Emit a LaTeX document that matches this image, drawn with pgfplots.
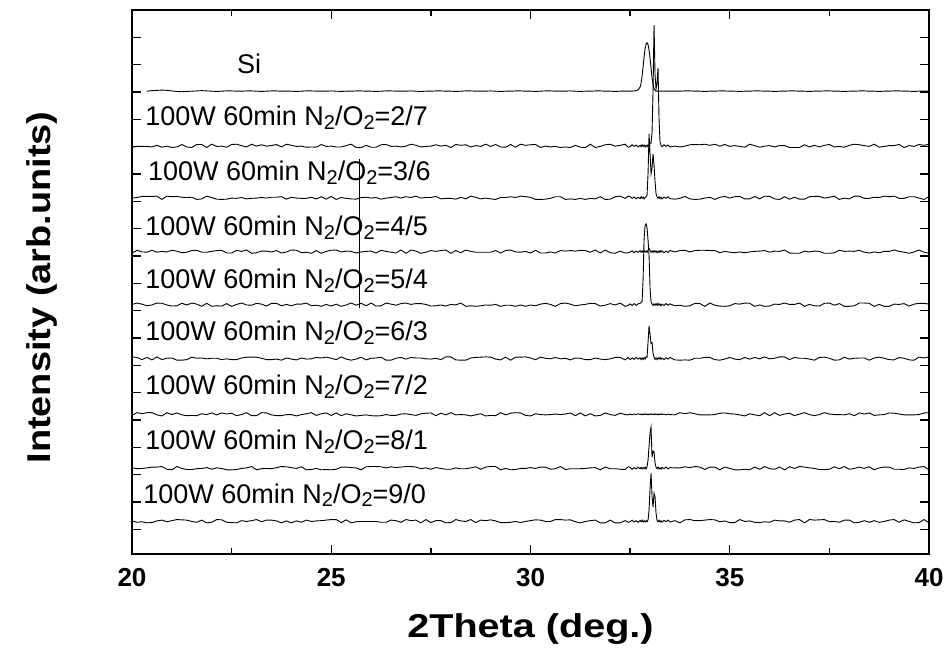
\documentclass[border=0pt]{standalone}
\usepackage{pgfplots}
\pgfplotsset{compat=1.18}
\usepackage{pgfplotstable}
\usepackage{graphicx}
\usepackage{fontspec}
\setmainfont{Liberation Sans}

\pgfplotstableread{
x s a b c d e f g h
20.0 0 -5 -1 -5 1 6 -4 2 1
20.125 0 -2 1 5 6 4 6 -2 -4
20.25 0 -2 5 -1 2 -4 2 -1 -2
20.375 0 -2 5 -2 -4 4 6 1 -6
20.5 2 -4 5 5 -1 -5 6 4 -5
20.625 3 2 6 -2 6 6 -2 4 1
20.75 4 -5 -6 1 5 -4 -6 6 4
20.875 3 -1 6 -1 -1 1 6 -4 -2
21.0 1 -6 4 5 -5 2 -1 -6 2
21.125 -1 -4 5 2 -4 -6 5 6 6
21.25 -2 5 2 -4 5 -6 -2 -1 5
21.375 -1 -4 1 -2 -1 -4 -5 -5 4
21.5 0 -6 2 4 6 5 -4 -5 -1
21.625 1 5 -6 5 2 1 -5 -2 -4
21.75 2 5 -4 -2 -6 2 2 -1 4
21.875 1 -6 6 -2 5 -1 -1 2 -6
22.0 0 6 1 1 -6 1 5 -4 -4
22.125 -1 -2 -5 4 -4 1 -2 1 6
22.25 0 -1 -6 5 -5 -4 5 -1 5
22.375 1 -5 -5 -5 4 -1 1 -6 -4
22.5 1 5 -1 -5 -6 -4 4 -6 -5
22.625 0 6 -2 5 1 -4 -5 -5 -6
22.75 0 1 1 1 6 2 -1 -1 2
22.875 1 -4 -4 6 -1 5 6 1 -1
23.0 1 6 -2 -6 -2 5 -5 6 2
23.125 0 -1 -1 -4 5 5 -5 -6 6
23.25 -1 4 1 2 2 1 6 -2 -2
23.375 0 -1 -1 2 -5 -4 5 -1 4
23.5 1 1 2 -1 5 -4 -2 -2 4
23.625 1 5 2 4 5 -2 -5 2 1
23.75 0 -4 4 -5 -4 -6 -5 6 -6
23.875 0 6 -5 -1 1 2 -1 5 1
24.0 0 2 2 6 -4 -2 -1 2 -6
24.125 -1 -2 -1 5 2 -5 -6 -1 1
24.25 0 -1 -2 -4 2 2 -1 5 -4
24.375 1 -5 -2 -2 6 -2 2 -6 4
24.5 1 -4 2 -6 -4 -1 6 -5 -1
24.625 0 -5 -4 4 -2 4 -4 -1 1
24.75 0 5 4 -6 -6 2 2 -6 2
24.875 0 -2 -5 1 1 5 5 -5 4
25.0 1 -1 5 5 -5 1 -4 -6 6
25.125 0 -4 -6 6 2 -4 5 -4 6
25.25 -1 -4 1 -1 -6 6 -5 4 -5
25.375 0 1 -2 2 -1 -2 2 4 5
25.5 0 6 -4 1 6 -6 -2 2 -6
25.625 1 -6 -5 -5 -2 -2 -6 1 -2
25.75 1 -6 1 -1 5 5 -4 -6 -1
25.875 0 2 2 1 -4 -5 -2 5 -1
26.0 0 -5 -1 2 6 1 -5 6 -1
26.125 -1 -5 1 -5 -5 2 -6 6 -1
26.25 0 4 -5 5 -4 5 -5 5 -4
26.375 1 5 -1 1 6 -6 -1 1 -4
26.5 1 -2 1 -2 2 -6 -4 5 4
26.625 0 -1 4 -5 -2 1 -4 2 2
26.75 0 -4 -1 6 4 4 1 4 -4
26.875 0 -1 4 -6 6 -2 2 6 6
27.0 1 6 1 6 1 4 -1 6 2
27.125 0 2 6 2 4 2 -4 4 4
27.25 -1 -4 -1 -6 4 2 2 -2 -6
27.375 0 -2 1 -2 1 -1 4 1 6
27.5 0 -1 1 4 -5 -2 5 -4 -5
27.625 1 4 5 1 -4 1 -5 2 2
27.75 1 -1 -4 4 -1 -4 4 -1 2
27.875 0 2 -2 6 -5 6 -2 -4 -6
28.0 0 -6 -2 -6 1 6 6 -4 -5
28.125 -1 5 -5 4 -1 -5 -2 1 6
28.25 0 2 2 -4 6 -6 -1 -2 1
28.375 1 4 -4 6 -6 -6 -2 -2 -1
28.5 1 -4 6 1 -4 2 -6 1 6
28.625 0 1 2 -2 -6 4 -2 5 -5
28.75 0 -2 -4 -2 -4 5 2 -4 4
28.875 0 6 -1 -2 -1 6 -6 4 2
29.0 1 -2 -4 -2 -2 5 -4 6 5
29.125 0 5 -6 4 1 -2 -5 6 1
29.25 -1 -4 1 -5 -6 -5 6 -6 -5
29.375 0 -5 1 4 -2 5 -2 -1 -5
29.5 0 5 4 6 -2 -6 4 -6 -4
29.625 1 -5 1 -1 -6 5 6 -5 -1
29.75 1 6 6 -2 -1 5 5 -1 -5
29.875 0 2 4 1 -6 6 -4 -1 -1
30.0 0 4 2 -5 -1 2 -6 2 2
30.125 -1 5 -6 5 -4 -4 2 -1 5
30.25 0 -6 -6 -5 2 5 -1 4 4
30.375 1 -1 -5 -5 5 1 -2 4 -1
30.5 1 -4 -2 -1 1 -1 -1 -4 -1
30.625 0 -2 4 -5 -6 4 1 -2 6
30.75 0 -6 4 4 4 -1 -1 6 6
30.875 0 -4 -6 2 6 1 1 -5 4
31.0 1 -6 -4 4 2 -5 5 -2 5
31.125 0 2 -6 2 -4 2 -5 -2 -2
31.25 -1 -5 -2 5 -1 1 5 -2 -6
31.375 0 -6 -6 4 1 -4 -6 -1 -1
31.5 0 6 -2 -2 5 -4 2 1 2
31.625 1 -6 -4 6 4 2 -6 2 4
31.75 1 -2 4 -5 -5 -2 -4 -6 -6
31.875 0 4 -6 6 -2 -4 5 4 -6
32.0 0 6 -5 -4 4 -1 -1 -2 4
32.125 -1 -1 4 -6 -1 4 -4 -2 -6
32.25 0 2 6 2 6 4 4 -4 -6
32.375 0 6 -2 -5 -6 -5 -1 -5 2
32.45 0 -5 6 -4 -3 4 -2 5 -4
32.5 0 -3 4 -2 3 -4 1 3 -2
32.55 0 4 -2 3 -3 2 -2 -4 4
32.6 1 -2 3 -4 4 -3 1 2 -3
32.65 2 3 -4 2 -2 4 -1 -3 2
32.7 5 -4 2 -3 3 -2 2 4 -4
32.75 15 2 -3 4 5 3 -1 -2 3
32.775 30 -3 4 -2 8 -4 1 3 -2
32.8 55 4 -2 3 12 2 -2 -3 4
32.825 90 -2 3 -3 90 -3 1 2 -3
32.85 125 3 -4 4 240 4 -1 -2 2
32.875 155 -4 2 -2 290 -2 2 4 -3
32.9 172 2 3 3 296 6 -1 -3 2
32.925 177 -3 10 -3 280 5 1 5 -2
32.95 170 4 90 5 235 60 -2 30 5
32.975 150 -2 234 12 180 120 1 80 40
33.0 120 10 160 5 60 90 -1 130 120
33.025 85 10 88 -2 10 55 2 150 175
33.05 50 50 110 3 2 58 -1 40 90
33.075 25 200 160 -3 -3 20 1 62 51
33.1 10 442 120 4 3 5 -2 60 102
33.125 4 260 60 -2 -2 -3 2 20 90
33.15 1 208 15 3 4 2 -1 3 30
33.175 0 230 3 -4 -3 -4 1 -2 3
33.2 0 285 -2 2 5 3 -2 4 -2
33.225 0 100 4 -3 -2 -2 1 -3 4
33.25 0 15 -3 4 3 4 -1 2 -3
33.275 0 2 2 -2 -4 -3 2 -4 2
33.3 0 -3 -4 3 2 2 -1 3 -4
33.35 0 4 3 -4 -3 -4 1 -2 3
33.4 0 -2 -2 2 4 3 -2 4 -2
33.45 0 3 4 -3 -2 -2 1 -3 4
33.5 0 -4 -3 4 3 4 -1 2 -3
33.625 0 -1 -5 -1 -4 -5 -2 1 2
33.75 0 -4 -2 4 -2 -6 6 1 -6
33.875 1 -1 5 5 -6 -5 2 5 5
34.0 1 4 -4 -1 -4 -6 6 2 6
34.125 0 5 -6 4 5 1 2 6 2
34.25 0 4 -5 5 4 1 -2 4 2
34.375 -1 6 -1 5 -6 4 -2 -5 4
34.5 0 2 2 4 6 4 -2 4 6
34.625 0 6 -6 4 -2 -4 -1 4 5
34.75 1 -1 2 -4 -5 -6 4 -6 -2
34.875 1 5 5 1 -6 -2 5 4 1
35.0 0 -2 -1 -2 -4 4 2 -1 -5
35.125 0 1 4 -4 4 -2 1 -6 -5
35.25 -1 -2 5 -1 2 -4 -2 -6 6
35.375 0 -5 -4 -4 6 4 -6 -4 -1
35.5 0 6 -4 -1 5 -2 2 -6 1
35.625 1 1 5 1 -6 4 -2 4 -4
35.75 1 -5 -4 2 -1 -1 -5 -4 -5
35.875 0 -1 6 4 -6 6 6 6 -2
36.0 0 1 5 -2 -5 -1 -5 -2 -4
36.125 -1 -4 -4 2 2 1 6 -4 4
36.25 0 1 -6 1 1 6 -4 4 1
36.375 0 1 4 6 6 6 1 -6 1
36.5 1 -6 -5 -5 1 -4 4 5 -4
36.625 1 -6 2 -6 1 4 -5 -1 4
36.75 0 -6 -5 -6 6 1 1 6 6
36.875 0 4 -5 2 -6 1 6 4 -6
37.0 -1 -4 4 -1 1 -2 -1 1 6
37.125 0 2 5 2 -4 -6 -5 -1 4
37.25 0 -4 5 1 -5 4 -1 -5 5
37.375 1 2 -1 -6 5 5 6 -5 6
37.5 1 5 2 -6 6 1 1 -4 -2
37.625 0 -4 6 -4 -2 -6 -1 5 -1
37.75 0 -2 -6 5 4 -5 -1 -2 -4
37.875 -1 -5 -1 1 -6 5 -2 6 4
38.0 0 2 -4 2 -6 -2 2 -4 4
38.125 0 6 6 1 -4 1 -5 -1 -6
38.25 1 4 6 5 6 2 5 4 -4
38.375 1 1 -2 -2 6 2 1 -1 2
38.5 0 -2 -2 -5 5 -6 5 5 -4
38.625 0 6 2 -1 -6 2 -4 -6 2
38.75 -1 -5 1 -4 1 5 -2 1 -4
38.875 0 -2 6 1 -6 1 -1 4 -1
39.0 0 1 4 1 -6 -4 5 4 4
39.125 1 1 6 6 2 -5 4 -4 6
39.25 1 5 -2 1 1 4 1 -4 -4
39.375 0 -6 -2 -2 4 1 -2 -5 5
39.5 0 1 4 -6 -5 -5 -2 1 -1
39.625 -1 -2 4 -1 2 -6 -2 -1 -6
39.75 0 5 -1 6 5 5 -1 4 -5
39.875 0 2 -6 -2 5 2 5 6 6
40.0 0 6 4 -6 2 6 6 -6 -6
}\data

\newcommand\sub[1]{\raisebox{-3.8pt}{\fontsize{20}{20}\selectfont #1}}
\newcommand\lab[1]{100W 60min N\sub{2}/O\sub{2}=#1}

\begin{document}
\begin{tikzpicture}
\path[use as bounding box] (0,0) rectangle (947pt,648pt);
\begin{axis}[
  at={(132pt,94pt)}, anchor=south west,
  scale only axis, width=797pt, height=544pt,
  xmin=20, xmax=40, ymin=0.1, ymax=20,
  xtick={20,25,30,35,40},
  minor xtick={22.5,27.5,32.5,37.5},
  ytick={1,2,...,19}, yticklabels={},
  tick align=inside,
  major tick length=9pt, minor tick length=6pt,
  axis line style={line width=1.8pt},
  tick style={line width=1.4pt, black},
  /pgf/number format/assume math mode=true,
  xticklabel style={font=\bfseries\fontsize{26}{26}\selectfont, inner sep=0pt, yshift=-14pt},
  xlabel={\bfseries\scalebox{1.2}[1]{2Theta (deg.)}},
  xlabel style={font=\fontsize{33}{33}\selectfont, at={(axis description cs:0.5,-0.1526)}, anchor=base},
  ylabel={\bfseries\scalebox{1.15}[1]{Intensity (arb.units)}},
  ylabel style={font=\fontsize{33}{33}\selectfont, at={(axis description cs:-0.113,0.49)}, anchor=center},
  cycle list={{black, solid, line width=0.9pt, mark=none}},
  every node/.append style={inner sep=0pt},
]
\addplot[black, line width=0.9pt, restrict x to domain=20.3:40] table[x=x, y expr=\thisrow{s}/100+17.03] {\data};
\addplot[black, line width=0.9pt] table[x=x, y expr=\thisrow{a}/100+15.03] {\data};
\addplot[black, line width=0.9pt] table[x=x, y expr=\thisrow{b}/100+13.13] {\data};
\addplot[black, line width=0.9pt] table[x=x, y expr=\thisrow{c}/100+11.16] {\data};
\addplot[black, line width=0.9pt] table[x=x, y expr=\thisrow{d}/100+9.22] {\data};
\addplot[black, line width=0.9pt] table[x=x, y expr=\thisrow{e}/100+7.25] {\data};
\addplot[black, line width=0.9pt] table[x=x, y expr=\thisrow{f}/100+5.21] {\data};
\addplot[black, line width=0.9pt] table[x=x, y expr=\thisrow{g}/100+3.24] {\data};
\addplot[black, line width=0.9pt] table[x=x, y expr=\thisrow{h}/100+1.30] {\data};
\addplot[black, line width=0.9pt] coordinates {(25.72,14.55) (25.72,9.11)};

\node[anchor=base west, inner sep=0pt, font=\fontsize{27}{27}\selectfont] at (axis cs:22.63,17.69) {Si};
\node[anchor=base west, inner sep=0pt, font=\fontsize{27}{27}\selectfont] at (axis cs:20.33,15.76) {\lab{2/7}};
\node[anchor=base west, inner sep=0pt, font=\fontsize{27}{27}\selectfont] at (axis cs:20.40,13.75) {\lab{3/6}};
\node[anchor=base west, inner sep=0pt, font=\fontsize{27}{27}\selectfont] at (axis cs:20.33,11.74) {\lab{4/5}};
\node[anchor=base west, inner sep=0pt, font=\fontsize{27}{27}\selectfont] at (axis cs:20.33,9.80) {\lab{5/4}};
\node[anchor=base west, inner sep=0pt, font=\fontsize{27}{27}\selectfont] at (axis cs:20.33,7.92) {\lab{6/3}};
\node[anchor=base west, inner sep=0pt, font=\fontsize{27}{27}\selectfont] at (axis cs:20.33,5.92) {\lab{7/2}};
\node[anchor=base west, inner sep=0pt, font=\fontsize{27}{27}\selectfont] at (axis cs:20.33,3.92) {\lab{8/1}};
\node[anchor=base west, inner sep=0pt, font=\fontsize{27}{27}\selectfont] at (axis cs:20.28,1.96) {\lab{9/0}};
\end{axis}
\end{tikzpicture}
\end{document}
